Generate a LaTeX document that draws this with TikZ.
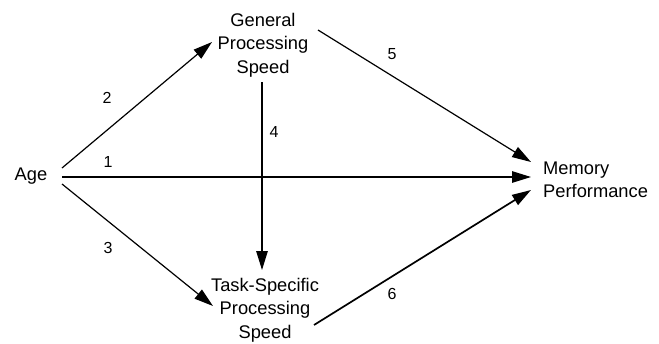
\documentclass[tikz,border=0pt]{standalone}
\usepackage{fontspec}
\setmainfont{Liberation Sans}
\usetikzlibrary{arrows.meta}
\tikzset{
  var/.style={inner sep=0pt, align=center, font=\fontsize{18.3}{23.5}\selectfont},
  pathlabel/.style={inner sep=0pt, font=\fontsize{16}{18}\selectfont},
  path/.style={line width=1.2pt, -{Triangle[length=19pt,width=11.5pt]}},
}
\begin{document}
\begin{tikzpicture}[x=1pt,y=-1pt]
\useasboundingbox (0,0) rectangle (659,343);
% variables
\node[var] (age) at (31,176) {Age};
\node[var] (gps) at (263,45) {General\\Processing\\Speed};
\node[var] (tsps) at (265,310) {Task-Specific\\Processing\\Speed};
\node[var, align=left, anchor=west] (mem) at (543,180) {Memory\\Performance};
% arrow end points next to the variables
\coordinate (age-up) at (62,168);
\coordinate (age-mid) at (62,177);
\coordinate (age-dn) at (62,184);
\coordinate (gps-in) at (212,42);
\coordinate (gps-out) at (318,30);
\coordinate (gps-dn) at (262,82);
\coordinate (tsps-in) at (213,306);
\coordinate (tsps-up) at (262,270);
\coordinate (tsps-out) at (314,325);
\coordinate (mem-up) at (531,162);
\coordinate (mem-mid) at (531,177);
\coordinate (mem-dn) at (531,190);
% paths
\draw[path] (age-up) -- (gps-in);
\draw[path] (age-mid) -- (mem-mid);
\draw[path] (age-dn) -- (tsps-in);
\draw[path] (gps-dn) -- (tsps-up);
\draw[path] (gps-out) -- (mem-up);
\draw[path, line width=1.7pt] (tsps-out) -- (mem-dn);
% path numbers
\node[pathlabel] (p1) at (108,162) {1};
\node[pathlabel] (p2) at (107,98) {2};
\node[pathlabel] (p3) at (108,248) {3};
\node[pathlabel] (p4) at (274,132) {4};
\node[pathlabel] (p5) at (392,54) {5};
\node[pathlabel] (p6) at (392,294) {6};
\end{tikzpicture}
\end{document}
